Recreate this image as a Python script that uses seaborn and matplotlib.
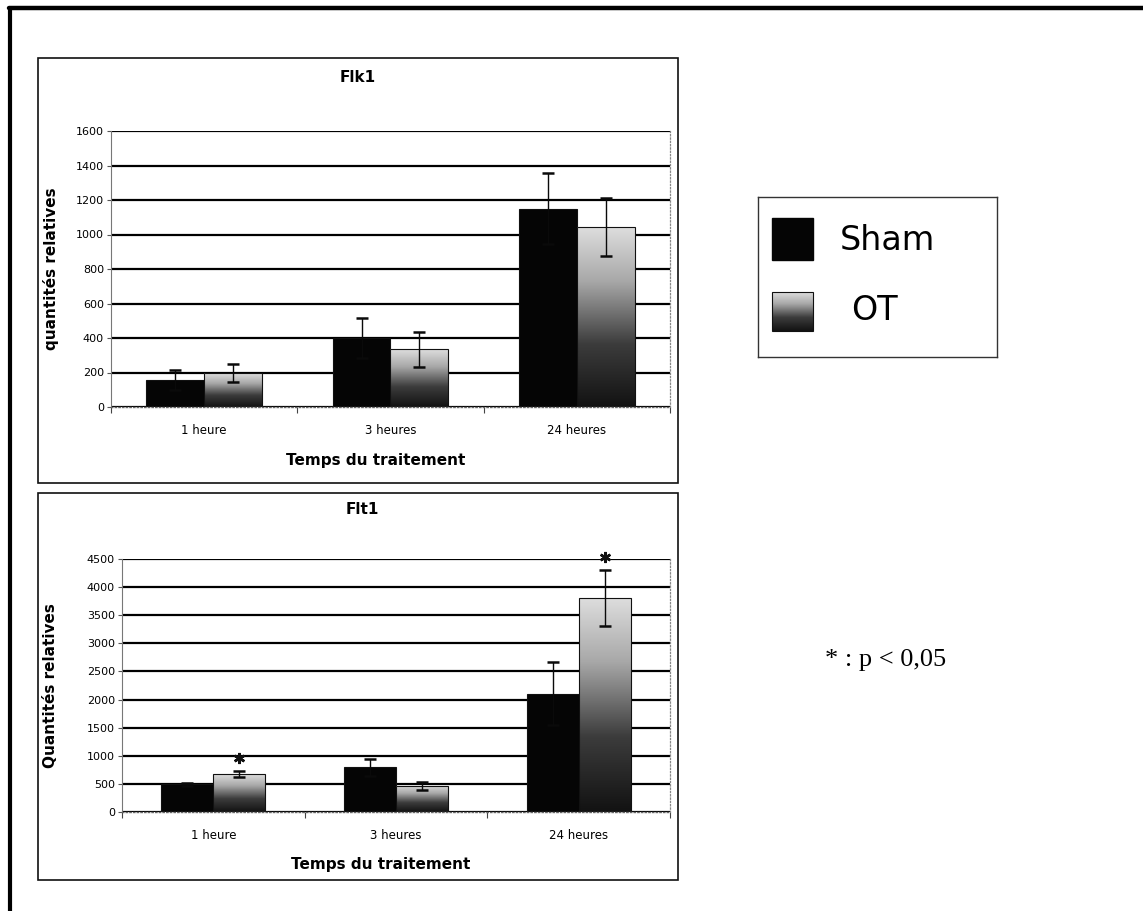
import numpy as np
import pandas as pd
import matplotlib
matplotlib.use("Agg")
import matplotlib.pyplot as plt
import seaborn as sns
from matplotlib.colors import LinearSegmentedColormap
from matplotlib.patches import Rectangle
from matplotlib.lines import Line2D

# ---- data -------------------------------------------------------------
categories = ["1 heure", "3 heures", "24 heures"]
groups = ["Sham", "OT"]

flk1_sham = [156, 402, 1150]
flk1_sham_err = [58, 116, 205]
flk1_ot = [195, 334, 1043]
flk1_ot_err = [52, 103, 168]

flt1_sham = [494, 795, 2102]
flt1_sham_err = [30, 150, 560]
flt1_ot = [675, 464, 3807]
flt1_ot_err = [60, 75, 495]
flt1_ot_signif = [True, False, True]

flk1_ticks = list(range(0, 1601, 200))
flt1_ticks = list(range(0, 4501, 500))

# ---- style ------------------------------------------------------------
sns.set_style("white")
plt.rcParams["font.family"] = ["DejaVu Sans"]
plt.rcParams["text.color"] = "black"
plt.rcParams["axes.labelcolor"] = "black"
plt.rcParams["xtick.color"] = "black"
plt.rcParams["ytick.color"] = "black"

W, H = 1143, 911
fig = plt.figure(figsize=(W / 100, H / 100), dpi=100)


def fx(px):
    return px / W


def fy(py):
    return 1 - py / H


# OT bars: light grey at the top fading to near black at the bottom
ot_cmap = LinearSegmentedColormap.from_list(
    "ot", [(0.0, "#121212"), (0.35, "#3c3c3c"), (0.7, "#a8a8a8"), (1.0, "#dedede")]
)
grad = np.linspace(0, 1, 256).reshape(-1, 1)


def draw_panel(rect, sham, sham_err, ot, ot_err, ticks, ylabel, width,
               label_x, signif=None):
    ax = fig.add_axes(rect)
    df = pd.DataFrame({
        "temps": categories * 2,
        "valeur": list(sham) + list(ot),
        "groupe": [groups[0]] * 3 + [groups[1]] * 3,
    })
    sns.barplot(data=df, x="temps", y="valeur", hue="groupe", order=categories,
                hue_order=groups, palette={"Sham": "#050505", "OT": "#808080"},
                width=width, errorbar=None, legend=False, ax=ax,
                edgecolor="#111111", linewidth=0.8)
    ymax = ticks[-1]
    sham_bars, ot_bars = ax.containers[0], ax.containers[1]

    # gradient fill clipped to each OT bar
    for p in ot_bars:
        x0, w, h = p.get_x(), p.get_width(), p.get_height()
        im = ax.imshow(grad, extent=(x0, x0 + w, 0, h), origin="lower",
                       cmap=ot_cmap, aspect="auto", interpolation="bilinear",
                       zorder=p.get_zorder() + 0.1)
        im.set_clip_path(p)
        p.set_facecolor("none")
        p.set_zorder(p.get_zorder() + 0.2)

    # error bars
    for bars, vals, errs in ((sham_bars, sham, sham_err), (ot_bars, ot, ot_err)):
        xs = [p.get_x() + p.get_width() / 2 for p in bars]
        ax.errorbar(xs, vals, yerr=errs, fmt="none", ecolor="#0a0a0a",
                    elinewidth=1.0, capsize=4.5, capthick=1.8, zorder=5)

    # significance marks
    if signif is not None:
        for p, v, e, s in zip(ot_bars, ot, ot_err, signif):
            if s:
                ax.plot(p.get_x() + p.get_width() / 2, v + e + 0.05 * ymax,
                        marker=(6, 2, 0), ms=8, mew=1.8, color="#111111",
                        clip_on=False, zorder=6)

    ax.set_xlim(-0.5, 2.5)
    ax.set_ylim(0, ymax)
    ax.set_yticks(ticks)
    ax.set_yticklabels([str(t) for t in ticks], fontsize=8)
    ax.set_axisbelow(True)
    ax.yaxis.grid(True, color="black", lw=1.6)
    ax.xaxis.grid(False)
    ax.set_xlabel("")
    ax.set_ylabel(ylabel, fontsize=11, fontweight="bold")
    ax.yaxis.set_label_coords(label_x, 0.5)
    ax.tick_params(axis="x", length=0, labelsize=8.5, pad=12)
    ax.tick_params(axis="y", length=3, width=0.8, color="#555555", pad=2, left=True)
    ax.set_xticks([-0.5, 0.5, 1.5, 2.5], minor=True)
    ax.tick_params(axis="x", which="minor", length=4, width=0.8, color="#444444",
                   bottom=True)
    ax.spines["top"].set_visible(False)
    ax.spines["left"].set_color("#777777")
    ax.spines["left"].set_linewidth(0.8)
    ax.spines["bottom"].set_color("#666666")
    ax.spines["bottom"].set_linestyle(":")
    ax.spines["bottom"].set_linewidth(1.0)
    ax.spines["right"].set_color("#888888")
    ax.spines["right"].set_linestyle(":")
    ax.spines["right"].set_linewidth(0.9)
    ax.set_facecolor("white")
    return ax


# ---- top chart: Flk1 --------------------------------------------------
ax1 = draw_panel([fx(111), fy(407), fx(670) - fx(111), fy(131) - fy(407)],
                 flk1_sham, flk1_sham_err, flk1_ot, flk1_ot_err,
                 flk1_ticks, "quantités relatives", 0.62,
                 label_x=(59 - 111) / (670 - 111))

# ---- bottom chart: Flt1 -----------------------------------------------
ax2 = draw_panel([fx(122), fy(812), fx(670) - fx(122), fy(559) - fy(812)],
                 flt1_sham, flt1_sham_err, flt1_ot, flt1_ot_err,
                 flt1_ticks, "Quantités relatives", 0.57,
                 label_x=(58 - 122) / (670 - 122), signif=flt1_ot_signif)

# chart frames
fig.add_artist(Rectangle((fx(38), fy(483)), fx(678) - fx(38), fy(58) - fy(483),
                         transform=fig.transFigure, fill=False, ec="#111111", lw=1.2))
fig.add_artist(Rectangle((fx(38), fy(880)), fx(678) - fx(38), fy(493) - fy(880),
                         transform=fig.transFigure, fill=False, ec="#111111", lw=1.2))

# chart titles and axis titles
fig.text(fx(358), fy(77), "Flk1", ha="center", va="center", fontsize=11, fontweight="bold")
fig.text(fx(362), fy(510), "Flt1", ha="center", va="center", fontsize=11, fontweight="bold")
fig.text(fx(376), fy(460), "Temps du traitement", ha="center", va="center",
         fontsize=11, fontweight="bold")
fig.text(fx(381), fy(865), "Temps du traitement", ha="center", va="center",
         fontsize=11, fontweight="bold")

# ---- legend box -------------------------------------------------------
lax = fig.add_axes([fx(758), fy(357), fx(997) - fx(758), fy(197) - fy(357)])
lax.set_xticks([])
lax.set_yticks([])
for s in lax.spines.values():
    s.set_color("#333333")
    s.set_linewidth(1.0)
lax.add_patch(Rectangle((772, 218), 41, 42, fc="#050505", ec="#050505"))
ot_patch = Rectangle((772, 292), 41, 39, fc="none", ec="#111111", lw=0.8, zorder=3)
lax.add_patch(ot_patch)
im = lax.imshow(grad, extent=(772, 813, 331, 292), origin="lower", cmap=ot_cmap,
                aspect="auto", interpolation="bilinear", zorder=2)
im.set_clip_path(ot_patch)
lax.set_xlim(758, 997)
lax.set_ylim(357, 197)
lax.text(840, 240, groups[0], va="center", ha="left", fontsize=24)
lax.text(851, 311, groups[1], va="center", ha="left", fontsize=24)

# significance note
fig.text(fx(825), fy(660), "* : p < 0,05", ha="left", va="center", fontsize=19,
         family=["Liberation Serif", "DejaVu Serif"])

# page frame (top and left edges)
fig.add_artist(Line2D([fx(9), 1.0], [fy(8), fy(8)], color="black", lw=3.2))
fig.add_artist(Line2D([fx(10), fx(10)], [fy(8), 0.0], color="black", lw=3.0))

fig.savefig("out.png", dpi=100, facecolor="white")
